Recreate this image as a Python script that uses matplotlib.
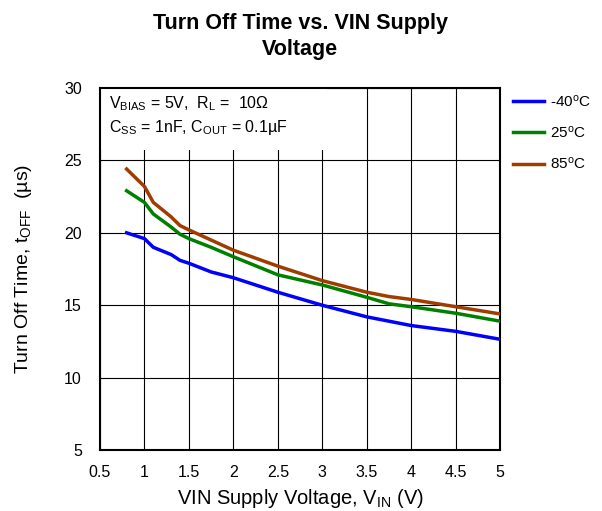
import numpy as np
import matplotlib
matplotlib.use('Agg')
import matplotlib.pyplot as plt
import matplotlib.patches as mpatches

plt.rcParams['font.family'] = ['Liberation Sans', 'DejaVu Sans']
plt.rcParams['mathtext.fontset'] = 'custom'
plt.rcParams['mathtext.rm'] = 'Liberation Sans'
plt.rcParams['mathtext.it'] = 'Liberation Sans'

# data
vin = [0.8, 1.0, 1.1, 1.3, 1.4, 1.5, 1.75, 2.0, 2.5, 3.0, 3.5, 3.75, 4.0, 4.5, 5.0]
t_m40 = [20.0, 19.6, 19.0, 18.5, 18.1, 17.9, 17.3, 16.9, 15.9, 15.0, 14.2, 13.9, 13.6, 13.2, 12.65]
t_25 = [22.9, 22.1, 21.3, 20.4, 19.9, 19.6, 19.0, 18.35, 17.1, 16.4, 15.55, 15.1, 14.9, 14.45, 13.9]
t_85 = [24.4, 23.2, 22.1, 21.1, 20.5, 20.2, 19.5, 18.8, 17.7, 16.7, 15.9, 15.6, 15.4, 14.9, 14.4]
labels = ['-40$^{\\mathrm{o}}$C', '25$^{\\mathrm{o}}$C', '85$^{\\mathrm{o}}$C']
colors = ['#0000ff', '#008000', '#a03c00']

fig = plt.figure(figsize=(6.02, 5.11), dpi=100)
ax = fig.add_axes([0.166, 0.119, 0.665, 0.709])

for y, lab, col in zip([t_m40, t_25, t_85], labels, colors):
    ax.plot(vin, y, color=col, lw=2.5, label=lab, zorder=3)

ax.set_xlim(0.5, 5)
ax.set_ylim(5, 30)
ax.set_xticks(np.arange(0.5, 5.01, 0.5))
ax.set_xticklabels(['0.5', '1', '1.5', '2', '2.5', '3', '3.5', '4', '4.5', '5'])
ax.set_yticks(np.arange(5, 31, 5))
ax.grid(True, color='black', lw=0.8)
ax.tick_params(length=0, labelsize=11.5)
ax.tick_params(axis='x', pad=11)
ax.tick_params(axis='y', pad=13)
for s in ax.spines.values():
    s.set_linewidth(1.5)

ax.set_xlabel('VIN Supply Voltage, V$_{\\mathrm{IN}}$ (V)', fontsize=14.5, labelpad=5)
ax.set_ylabel('Turn Off Time, t$_{\\mathrm{OFF}}$  (\u00b5s)', fontsize=14, labelpad=22)
ax.set_title('Turn Off Time vs. VIN Supply\nVoltage', fontsize=15.5, fontweight='bold',
             pad=24, linespacing=1.3)

# white box behind the condition text
ax.add_patch(mpatches.Rectangle((0.5, 25.7), 2.55, 4.3, facecolor='white', edgecolor='none', zorder=2))
ax.text(0.6, 28.9, 'V$_{\\mathrm{BIAS}}$ = 5V,  R$_{\\mathrm{L}}$ =  10\u03a9', fontsize=11.5, va='center', zorder=4)
ax.text(0.6, 27.3, 'C$_{\\mathrm{SS}}$ = 1nF, C$_{\\mathrm{OUT}}$ = 0.1\u00b5F', fontsize=11.5, va='center', zorder=4)

ax.legend(loc='upper left', bbox_to_anchor=(1.01, 1.01), frameon=False, fontsize=11,
          handlelength=2.0, labelspacing=1.0, handletextpad=0.4, borderaxespad=0.2)

fig.savefig('out.png', dpi=100)
